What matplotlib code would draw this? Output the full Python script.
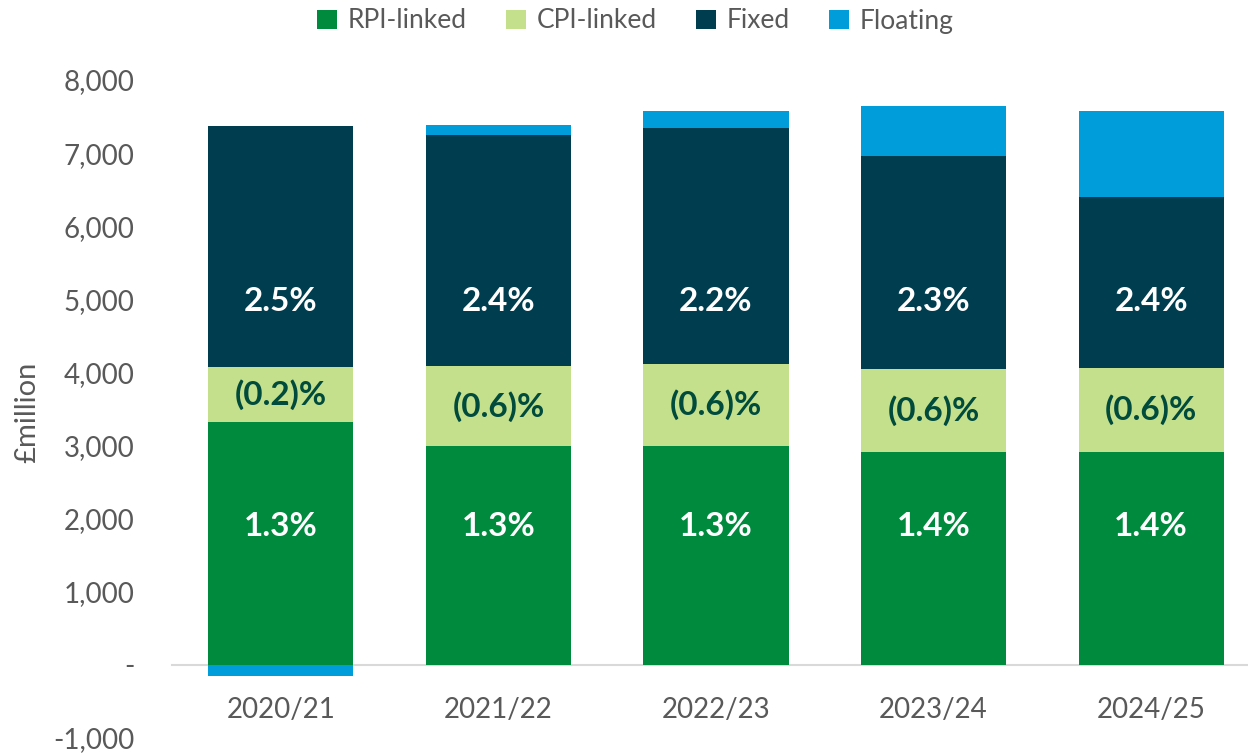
import matplotlib.pyplot as plt
import numpy as np

plt.rcParams['font.family'] = ['Lato', 'DejaVu Sans']

years = ['2020/21', '2021/22', '2022/23', '2023/24', '2024/25']
rpi = [3317, 2992, 2992, 2910, 2910]
cpi = [756, 1094, 1126, 1140, 1157]
fixed = [3303, 3159, 3231, 2909, 2334]
floating = [-155, 141, 223, 685, 1179]

rpi_rate = ['1.3%', '1.3%', '1.3%', '1.4%', '1.4%']
cpi_rate = ['(0.2)%', '(0.6)%', '(0.6)%', '(0.6)%', '(0.6)%']
fixed_rate = ['2.5%', '2.4%', '2.2%', '2.3%', '2.4%']

yticks = [-1000, 0, 1000, 2000, 3000, 4000, 5000, 6000, 7000, 8000]

c_rpi = '#008A3E'
c_cpi = '#C5E08C'
c_fixed = '#003D4F'
c_float = '#009DDB'
grey = '#595959'

fig = plt.figure(figsize=(12.48, 7.54), dpi=100)
ax = fig.add_axes([172 / 1248, 16 / 754, 1088 / 1248, 658 / 754])

x = np.arange(len(years))
w = 0.667
rpi = np.array(rpi)
cpi = np.array(cpi)
fixed = np.array(fixed)
floating = np.array(floating)

ax.bar(x, rpi, w, color=c_rpi, label='RPI-linked')
ax.bar(x, cpi, w, bottom=rpi, color=c_cpi, label='CPI-linked')
ax.bar(x, fixed, w, bottom=rpi + cpi, color=c_fixed, label='Fixed')
float_bottom = np.where(floating < 0, 0, rpi + cpi + fixed)
ax.bar(x, floating, w, bottom=float_bottom, color=c_float, label='Floating')

# labels (rpi / fixed labels sit at a common height like in the original)
for i in range(len(years)):
    ax.text(x[i], 1890, rpi_rate[i], ha='center', va='center', color='white',
            fontsize=24, fontweight='bold')
    ax.text(x[i], rpi[i] + cpi[i] / 2, cpi_rate[i], ha='center', va='center',
            color='#004B3C', fontsize=24, fontweight='bold')
    ax.text(x[i], 4970, fixed_rate[i], ha='center', va='center', color='white',
            fontsize=24, fontweight='bold')

ax.set_xlim(-0.5, 4.5)
ax.set_ylim(-1000, 8000)
ax.set_yticks(yticks)
ax.set_yticklabels(['-' if v == 0 else f'{v:,}' for v in yticks])
ax.set_xticks(x)
ax.set_xticklabels(years)

for s in ['top', 'right', 'left']:
    ax.spines[s].set_visible(False)
ax.spines['bottom'].set_position(('data', 0))
ax.spines['bottom'].set_color('#D9D9D9')
ax.spines['bottom'].set_linewidth(1.5)
ax.spines['bottom'].set_zorder(0.5)

ax.tick_params(axis='y', length=0, pad=27, labelsize=20, labelcolor=grey)
ax.tick_params(axis='x', length=0, pad=23, labelsize=20, labelcolor=grey)

fig.text(27 / 1248, 1 - 412 / 754, '£million', rotation=90, ha='center', va='center',
         fontsize=21, color=grey)

fig.legend(loc='center', bbox_to_anchor=(0.509, 1 - 21 / 754), ncol=4, frameon=False,
           fontsize=19, labelcolor=grey, handlelength=0.75, handleheight=0.75,
           handletextpad=0.4, columnspacing=1.5)

fig.savefig('out.png', dpi=100)
